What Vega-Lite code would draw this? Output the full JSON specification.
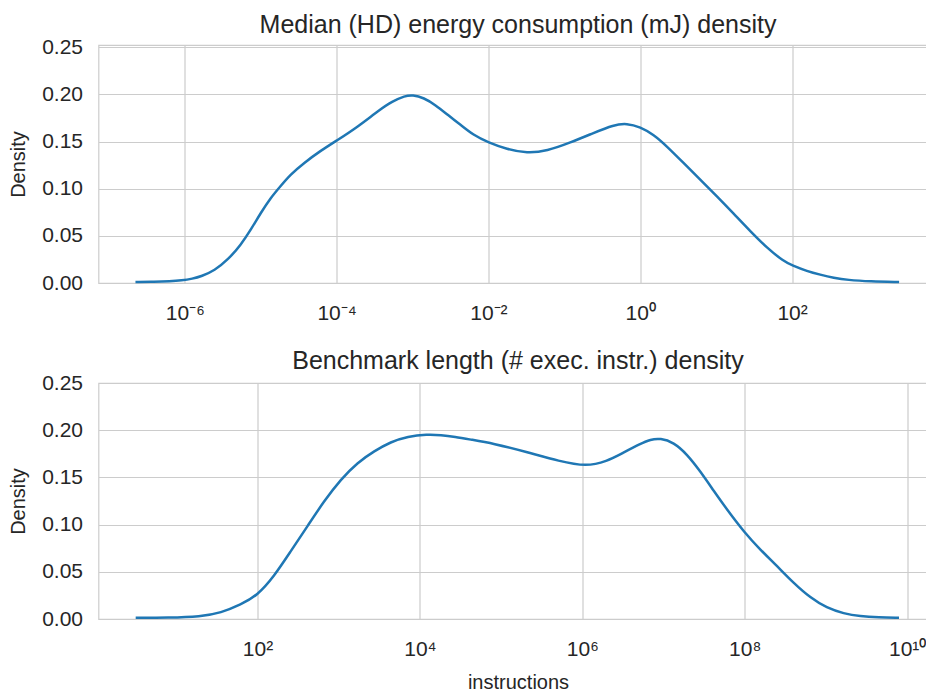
{
  "$schema": "https://vega.github.io/schema/vega-lite/v6.json",
  "padding": {"left": 7.5, "top": 12, "right": 0, "bottom": 0},
  "background": "white",
  "datasets": {
    "energy": [
      {"log10_mJ": -6.65, "density": 0.001},
      {"log10_mJ": -6.4, "density": 0.0013},
      {"log10_mJ": -6.2, "density": 0.0019},
      {"log10_mJ": -6.04, "density": 0.0028},
      {"log10_mJ": -5.9, "density": 0.0045},
      {"log10_mJ": -5.78, "density": 0.0071},
      {"log10_mJ": -5.61, "density": 0.0131},
      {"log10_mJ": -5.43, "density": 0.0248},
      {"log10_mJ": -5.26, "density": 0.0407},
      {"log10_mJ": -5.13, "density": 0.0566},
      {"log10_mJ": -5.0, "density": 0.0743},
      {"log10_mJ": -4.87, "density": 0.0903},
      {"log10_mJ": -4.74, "density": 0.1027},
      {"log10_mJ": -4.61, "density": 0.115},
      {"log10_mJ": -4.43, "density": 0.1274},
      {"log10_mJ": -4.22, "density": 0.1398},
      {"log10_mJ": -4.0, "density": 0.1511},
      {"log10_mJ": -3.74, "density": 0.1646},
      {"log10_mJ": -3.43, "density": 0.184},
      {"log10_mJ": -3.27, "density": 0.1925},
      {"log10_mJ": -3.1, "density": 0.1985},
      {"log10_mJ": -3.0, "density": 0.1995},
      {"log10_mJ": -2.85, "density": 0.1965},
      {"log10_mJ": -2.7, "density": 0.189},
      {"log10_mJ": -2.53, "density": 0.178},
      {"log10_mJ": -2.37, "density": 0.168},
      {"log10_mJ": -2.2, "density": 0.157},
      {"log10_mJ": -2.0, "density": 0.149},
      {"log10_mJ": -1.76, "density": 0.142},
      {"log10_mJ": -1.49, "density": 0.1375},
      {"log10_mJ": -1.23, "density": 0.14},
      {"log10_mJ": -0.92, "density": 0.149},
      {"log10_mJ": -0.62, "density": 0.159},
      {"log10_mJ": -0.35, "density": 0.1678},
      {"log10_mJ": -0.176, "density": 0.1694},
      {"log10_mJ": 0.0, "density": 0.1655},
      {"log10_mJ": 0.176, "density": 0.1575},
      {"log10_mJ": 0.35, "density": 0.1451},
      {"log10_mJ": 0.57, "density": 0.1274},
      {"log10_mJ": 0.79, "density": 0.1097},
      {"log10_mJ": 1.01, "density": 0.092},
      {"log10_mJ": 1.23, "density": 0.0736},
      {"log10_mJ": 1.45, "density": 0.0549},
      {"log10_mJ": 1.67, "density": 0.0372},
      {"log10_mJ": 1.89, "density": 0.023},
      {"log10_mJ": 2.0, "density": 0.0188},
      {"log10_mJ": 2.2, "density": 0.0124},
      {"log10_mJ": 2.37, "density": 0.0088},
      {"log10_mJ": 2.55, "density": 0.0055},
      {"log10_mJ": 2.73, "density": 0.0032},
      {"log10_mJ": 3.03, "density": 0.0016},
      {"log10_mJ": 3.41, "density": 0.001}
    ],
    "instructions": [
      {"log10_instr": 0.5, "density": 0.0012},
      {"log10_instr": 0.9, "density": 0.0013},
      {"log10_instr": 1.3, "density": 0.0025},
      {"log10_instr": 1.55, "density": 0.0065},
      {"log10_instr": 1.795, "density": 0.0152},
      {"log10_instr": 2.0, "density": 0.0251},
      {"log10_instr": 2.205, "density": 0.0453},
      {"log10_instr": 2.41, "density": 0.0719},
      {"log10_instr": 2.616, "density": 0.0984},
      {"log10_instr": 2.82, "density": 0.125},
      {"log10_instr": 3.027, "density": 0.148},
      {"log10_instr": 3.23, "density": 0.1657},
      {"log10_instr": 3.44, "density": 0.178},
      {"log10_instr": 3.64, "density": 0.1876},
      {"log10_instr": 3.85, "density": 0.1935},
      {"log10_instr": 4.09, "density": 0.1955},
      {"log10_instr": 4.26, "density": 0.1948},
      {"log10_instr": 4.43, "density": 0.193},
      {"log10_instr": 4.63, "density": 0.19},
      {"log10_instr": 4.9, "density": 0.186},
      {"log10_instr": 5.31, "density": 0.177},
      {"log10_instr": 5.72, "density": 0.167},
      {"log10_instr": 6.05, "density": 0.1615},
      {"log10_instr": 6.3, "density": 0.167},
      {"log10_instr": 6.5, "density": 0.176},
      {"log10_instr": 6.71, "density": 0.1855},
      {"log10_instr": 6.84, "density": 0.1903},
      {"log10_instr": 6.96, "density": 0.1915},
      {"log10_instr": 7.125, "density": 0.1872},
      {"log10_instr": 7.29, "density": 0.1745},
      {"log10_instr": 7.45, "density": 0.1568},
      {"log10_instr": 7.62, "density": 0.1356},
      {"log10_instr": 7.78, "density": 0.1161},
      {"log10_instr": 8.0, "density": 0.0913},
      {"log10_instr": 8.19, "density": 0.0736},
      {"log10_instr": 8.4, "density": 0.0559},
      {"log10_instr": 8.6, "density": 0.0382},
      {"log10_instr": 8.81, "density": 0.0223},
      {"log10_instr": 9.01, "density": 0.0117},
      {"log10_instr": 9.22, "density": 0.0057},
      {"log10_instr": 9.42, "density": 0.0028},
      {"log10_instr": 9.65, "density": 0.0016},
      {"log10_instr": 9.9, "density": 0.0012}
    ]
  },
  "spacing": 24,
  "vconcat": [
    {
      "title": {"text": "Median (HD) energy consumption (mJ) density"},
      "width": 839,
      "height": 238,
      "data": {"name": "energy"},
      "mark": {"type": "line", "interpolate": "basis", "color": "#1f77b4", "strokeWidth": 2.5},
      "encoding": {
        "x": {
          "field": "log10_mJ", "type": "quantitative",
          "scale": {"domain": [-7.137, 3.916], "nice": false, "zero": false},
          "axis": {
            "title": null,
            "values": [-6, -4, -2, 0, 2],
            "labelPadding": 19,
            "labelExpr": "datum.value == -6 ? '10⁻⁶' : datum.value == -4 ? '10⁻⁴' : datum.value == -2 ? '10⁻²' : datum.value == 0 ? '10⁰' : '10²'"
          }
        },
        "y": {
          "field": "density", "type": "quantitative",
          "scale": {"domain": [0, 0.2525], "nice": false},
          "axis": {"title": "Density", "values": [0, 0.05, 0.1, 0.15, 0.2, 0.25], "format": ".2f", "labelPadding": 16, "titlePadding": 13}
        }
      }
    },
    {
      "title": {"text": "Benchmark length (# exec. instr.) density"},
      "width": 839,
      "height": 236,
      "data": {"name": "instructions"},
      "mark": {"type": "line", "interpolate": "basis", "color": "#1f77b4", "strokeWidth": 2.5},
      "encoding": {
        "x": {
          "field": "log10_instr", "type": "quantitative",
          "scale": {"domain": [0.042, 10.374], "nice": false, "zero": false},
          "axis": {
            "title": "instructions",
            "values": [2, 4, 6, 8, 10],
            "labelPadding": 19,
            "titlePadding": 13,
            "labelExpr": "datum.value == 2 ? '10²' : datum.value == 4 ? '10⁴' : datum.value == 6 ? '10⁶' : datum.value == 8 ? '10⁸' : '10¹⁰'"
          }
        },
        "y": {
          "field": "density", "type": "quantitative",
          "scale": {"domain": [0, 0.25], "nice": false},
          "axis": {"title": "Density", "values": [0, 0.05, 0.1, 0.15, 0.2, 0.25], "format": ".2f", "labelPadding": 16, "titlePadding": 13}
        }
      }
    }
  ],
  "config": {
    "font": "Liberation Sans",
    "view": {"stroke": "#cccccc", "strokeWidth": 1.2},
    "axis": {
      "grid": true,
      "gridColor": "#cccccc",
      "gridWidth": 1.2,
      "domain": false,
      "ticks": false,
      "tickSize": 0,
      "labelColor": "#262626",
      "titleColor": "#262626",
      "labelFont": "Liberation Sans",
      "titleFont": "Liberation Sans",
      "labelFontSize": 21,
      "titleFontSize": 20,
      "titleFontWeight": "normal"
    },
    "title": {"font": "Liberation Sans", "fontSize": 25, "fontWeight": "normal", "color": "#262626", "anchor": "middle", "offset": -2}
  }
}
